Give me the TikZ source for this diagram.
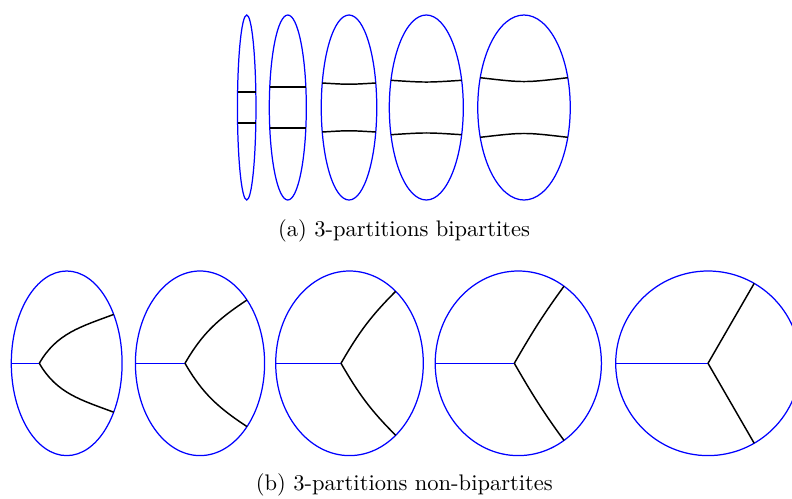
\documentclass[tikz,border=0pt]{standalone}
\usepackage{amsmath, amssymb}
\usepackage{tikz}
\usetikzlibrary{positioning,calc}
\tikzset{
  boundary/.style={draw=blue, line width=0.55pt},
  cutline/.style={draw=black, line width=0.65pt},
  caption/.style={inner sep=0pt, anchor=base, font=\normalsize}
}

\begin{document}
\begin{tikzpicture}[x=0.444pt, y=0.444pt]
  \clip (0,0) rectangle (792,498);
  % (a) bipartite 3-partitions
  \foreach \cx/\a/\de/\c [count=\i] in {246.7/9.25/15.5/15.5, 287.8/18.5/20.5/20.2, 349/27.75/24.5/22.9, 426.3/37/27.2/24.9, 524/46.25/29.8/24.7}{
    \pgfmathsetmacro\xe{\a*sqrt(1-(\de/92.5)^2)}
    \draw[boundary] (\cx,390.5) ellipse [x radius=\a, y radius=92.5];
    \coordinate (tl\i) at (\cx-\xe,390.5+\de);
    \coordinate (tr\i) at (\cx+\xe,390.5+\de);
    \coordinate (bl\i) at (\cx-\xe,390.5-\de);
    \coordinate (br\i) at (\cx+\xe,390.5-\de);
    \draw[cutline] (tl\i) .. controls (\cx,390.5+\c) .. (tr\i);
    \draw[cutline] (bl\i) .. controls (\cx,390.5-\c) .. (br\i);
  }
  \node[caption] (capa) at (404,261.3) {(a) 3-partitions bipartites};
  % (b) non-bipartite 3-partitions
  \foreach \cx/\a/\jx/\ex/\ey/\nn [count=\i] in {66.7/55.4/-27.4/47/48.9/20.6, 200/64.6/-15/47/63.3/33.4, 349.5/73.8/-8.5/46.2/72/44.9, 518.3/83.1/-4/45.7/77.1/53.8, 708/92.3/0/46.15/79.9/60}{
    \draw[boundary] (\cx,134.7) ellipse [x radius=\a, y radius=92.3];
    \coordinate (w\i) at (\cx-\a,134.7);
    \coordinate (j\i) at (\cx+\jx,134.7);
    \coordinate (u\i) at (\cx+\ex,134.7+\ey);
    \coordinate (d\i) at (\cx+\ex,134.7-\ey);
    \draw[boundary] (w\i) -- (j\i);
    \draw[cutline] (j\i) to[out=60,in=180+\nn] (u\i);
    \draw[cutline] (j\i) to[out=-60,in=180-\nn] (d\i);
  }
  \node[caption] (capb) at (404.3,8) {(b) 3-partitions non-bipartites};
\end{tikzpicture}
\end{document}
